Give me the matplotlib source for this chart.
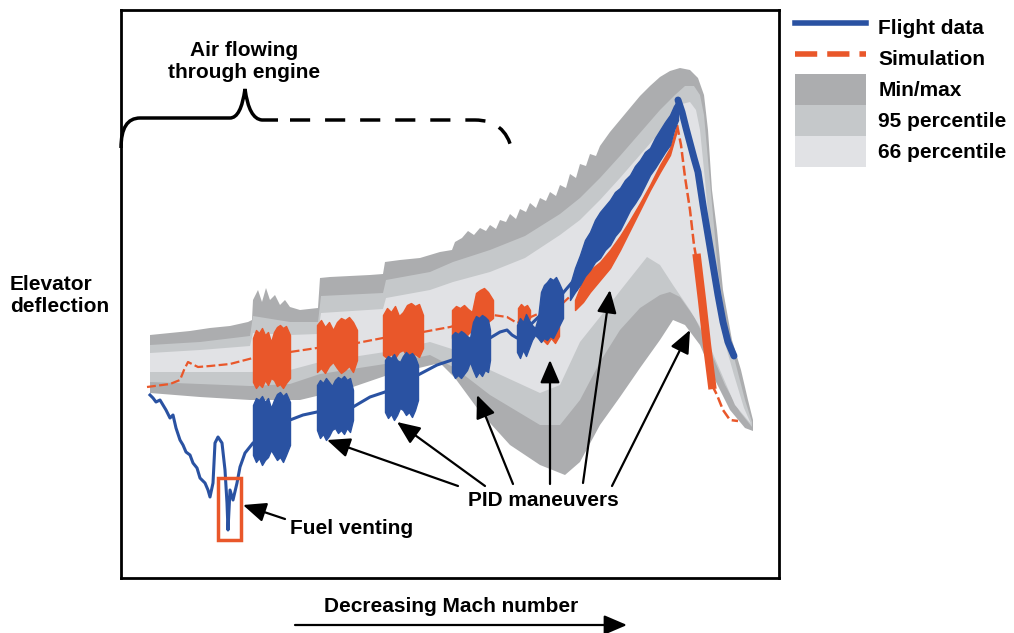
import numpy as np
import matplotlib.pyplot as plt
from matplotlib.path import Path
from matplotlib.patches import PathPatch, Rectangle, Patch
from matplotlib.lines import Line2D

plt.rcParams['font.family'] = ['Liberation Sans', 'DejaVu Sans']
plt.rcParams['font.weight'] = 'bold'

BLUE = '#2a52a2'
RED = '#e9572a'
DARK = '#acadaf'
MID = '#c5c8ca'
LIGHT = '#e1e2e5'

# schematic units: x grows with decreasing Mach, y = elevator deflection (axis inverted)
# envelope edges (min/max, 95 and 66 percentile)
mm_hi_x = [150, 170, 190, 210, 230, 248, 252, 253, 258, 262, 266, 270, 275, 280, 285, 290, 300, 318, 320, 330, 350, 370, 383,
           385, 400, 420, 440, 452, 455, 462, 468, 474, 480, 486, 490, 496, 500, 506, 510, 516, 520, 526, 530, 536, 540, 546,
           550, 556, 560, 566, 570, 576, 580, 586, 590, 596, 600, 610, 620, 630,
           640, 650, 660, 670, 680, 690, 698, 704, 708, 712, 717, 723, 732, 741, 748, 753]
mm_hi_y = [335, 333, 331, 328, 326, 322, 320, 300, 290, 302, 288, 300, 295, 305, 300, 307, 310, 308, 278, 277, 276, 275, 274,
           262, 260, 258, 252, 250, 242, 238, 231, 235, 228, 231, 225, 229, 220, 222, 214, 219, 209, 212, 203, 208, 198, 201,
           192, 196, 185, 188, 174, 178, 164, 166, 154, 156, 146, 132, 120, 108,
           96, 86, 77, 71, 68, 70, 78, 95, 130, 190, 230, 290, 340, 370, 400, 420]
mm_lo_x = [150, 200, 250, 300, 350, 385, 440, 455, 480, 510, 540, 565, 580, 600, 620, 640, 660, 673, 685, 700, 715, 730, 745, 753]
mm_lo_y = [393, 397, 400, 400, 388, 376, 363, 378, 412, 445, 465, 475, 462, 425, 397, 368, 340, 320, 325, 345, 380, 410, 428, 431]

p95_hi_x = [150, 200, 250, 253, 290, 318, 321, 383, 386, 430, 453, 490, 525, 560, 580, 600, 620, 640, 660, 675, 685, 694,
            700, 704, 708, 713, 718, 726, 736, 745, 752]
p95_hi_y = [345, 342, 336, 316, 322, 322, 296, 293, 280, 272, 262, 250, 236, 214, 198, 178, 156, 133, 110, 95, 86, 86,
            95, 115, 160, 215, 270, 325, 365, 400, 422]
p95_lo_x = [150, 250, 290, 320, 385, 430, 455, 490, 540, 560, 580, 600, 620, 640, 660, 670, 680, 695, 710, 725, 740, 752]
p95_lo_y = [382, 386, 384, 374, 364, 355, 368, 395, 425, 425, 400, 362, 330, 308, 295, 292, 297, 318, 350, 385, 412, 427]

p66_hi_x = [150, 200, 250, 253, 290, 318, 321, 383, 386, 430, 453, 490, 525, 560, 580, 600, 620, 640, 660, 672, 682, 690,
            696, 700, 705, 710, 716, 724, 734, 744, 751]
p66_hi_y = [353, 350, 346, 333, 335, 334, 313, 309, 298, 290, 282, 272, 258, 235, 220, 200, 178, 155, 132, 116, 104, 102,
            110, 130, 180, 235, 290, 340, 375, 408, 424]
p66_lo_x = [150, 250, 290, 320, 385, 430, 455, 490, 540, 560, 580, 600, 620, 647, 660, 673, 690, 705, 720, 735, 751]
p66_lo_y = [372, 372, 370, 362, 352, 342, 350, 370, 393, 385, 342, 317, 291, 257, 265, 285, 310, 335, 370, 405, 424]

# flight data and simulation traces
blue_x = [150, 153, 156, 160, 163, 166, 170, 173, 176, 180, 183, 186, 190, 193, 197, 200, 205, 208, 210, 213, 215, 218,
          222, 225, 227, 228, 230, 233, 237, 240, 245, 253,
          290, 303, 317, 353, 370, 385, 418, 437, 452, 490, 500, 507, 512, 517, 563, 580]
blue_y = [395, 398, 402, 400, 405, 410, 418, 415, 428, 440, 445, 452, 455, 463, 468, 478, 483, 490, 497, 483, 443, 437,
          443, 470, 503, 530, 490, 500, 483, 467, 453, 443,
          420, 415, 412, 407, 397, 392, 375, 365, 360, 338, 332, 330, 335, 338, 293, 273]
red_x = [147, 170, 180, 184, 188, 192, 198, 210, 230, 253, 290, 317, 357, 383, 423, 450, 493, 507, 517, 563, 580]
red_y = [387, 384, 380, 370, 362, 364, 367, 366, 364, 358, 352, 348, 343, 338, 332, 327, 315, 317, 323, 303, 287]

# PID maneuver bursts: x, top, bottom
blue_bursts = [
    ([253, 256, 259, 262, 265, 268, 271, 274, 277, 280, 283, 286, 290],
     [405, 398, 400, 396, 402, 398, 408, 400, 394, 392, 396, 393, 402],
     [455, 462, 458, 465, 460, 457, 450, 455, 460, 457, 462, 455, 445]),
    ([317, 320, 323, 326, 329, 332, 335, 338, 341, 344, 347, 350, 353],
     [385, 380, 383, 378, 382, 386, 380, 377, 379, 376, 380, 378, 390],
     [430, 438, 434, 440, 436, 430, 428, 433, 430, 434, 428, 432, 420]),
    ([385, 388, 391, 394, 397, 400, 403, 406, 409, 412, 415, 418],
     [360, 356, 358, 354, 360, 362, 356, 352, 355, 353, 357, 365],
     [412, 418, 414, 420, 415, 408, 410, 415, 412, 417, 410, 400]),
    ([452, 455, 458, 461, 464, 467, 470, 473, 476, 479, 482, 485, 488, 490],
     [335, 332, 334, 331, 333, 336, 338, 322, 316, 318, 315, 317, 320, 330],
     [372, 378, 375, 378, 374, 370, 362, 370, 377, 372, 376, 370, 372, 360]),
    ([517, 520, 523, 526, 529, 532, 535, 538, 541, 544, 547, 550, 553, 556, 559, 563],
     [325, 318, 322, 314, 320, 325, 328, 318, 292, 285, 282, 278, 280, 277, 283, 292],
     [352, 358, 350, 356, 348, 340, 335, 338, 342, 338, 340, 336, 338, 332, 326, 318]),
]
red_bursts = [
    ([253, 256, 259, 262, 265, 268, 271, 274, 277, 280, 283, 286, 290],
     [338, 330, 333, 328, 335, 332, 342, 332, 327, 325, 328, 326, 335],
     [382, 388, 384, 387, 380, 385, 378, 380, 386, 384, 388, 383, 378]),
    ([317, 321, 325, 329, 333, 337, 341, 345, 349, 353, 357],
     [325, 320, 327, 322, 330, 322, 318, 320, 317, 322, 330],
     [372, 368, 373, 366, 362, 368, 373, 370, 366, 372, 360]),
    ([383, 387, 391, 395, 399, 403, 407, 411, 415, 419, 423],
     [315, 308, 312, 306, 316, 312, 305, 303, 306, 304, 315],
     [355, 358, 354, 358, 352, 350, 356, 357, 354, 357, 348]),
    ([452, 456, 460, 464, 468, 472, 476, 480, 484, 488, 493],
     [310, 306, 308, 305, 309, 312, 293, 290, 288, 292, 300],
     [338, 340, 336, 339, 334, 330, 324, 320, 326, 322, 318]),
    ([518, 521, 524, 527, 530],
     [308, 304, 307, 305, 310],
     [322, 325, 320, 324, 318]),
    ([543, 547, 551, 555, 559],
     [325, 322, 326, 320, 318],
     [340, 344, 338, 343, 336]),
]

# final climb and descent
blue_c_x = [570, 575, 580, 585, 590, 595, 600, 605, 610, 615, 620, 625, 630, 635, 640, 645, 650, 655, 660, 665, 670, 674, 678]
blue_c_top = [285, 268, 255, 240, 232, 220, 212, 206, 200, 192, 188, 180, 175, 166, 160, 152, 148, 138, 130, 122, 115, 106, 100]
blue_c_bot = [300, 292, 285, 276, 270, 262, 258, 250, 245, 236, 230, 220, 210, 203, 195, 185, 175, 168, 160, 152, 145, 130, 120]
red_c_x = [575, 583, 590, 600, 610, 620, 630, 640, 650, 660, 670, 677]
red_c_top = [300, 280, 270, 262, 250, 236, 220, 203, 185, 165, 148, 125]
red_c_bot = [310, 302, 292, 280, 268, 250, 230, 210, 190, 172, 155, 130]
blue_d_x = [678, 682, 686, 690, 694, 698, 703, 708, 713, 718, 723, 728, 734]
blue_d_y = [100, 112, 128, 143, 158, 172, 205, 235, 265, 295, 322, 342, 356]
red_d_x = [677, 681, 685, 690, 694, 697]
red_d_y = [125, 145, 177, 210, 245, 262]
red_t_x = [697, 702, 707, 712]
red_t_y = [258, 300, 345, 385]
red_e_x = [712, 717, 723, 730, 738]
red_e_y = [385, 395, 410, 420, 421]

fig = plt.figure(figsize=(10.14, 6.33), dpi=100)
ax = fig.add_axes([121 / 1014, 55 / 633, 658 / 1014, 568 / 633])
ax.set_xlim(121, 779)
ax.set_ylim(578, 10)
ax.set_xticks([])
ax.set_yticks([])
for s in ax.spines.values():
    s.set_linewidth(2)


def band(hx, hy, lx, ly, color):
    ax.fill(list(hx) + list(lx)[::-1], list(hy) + list(ly)[::-1], color=color, lw=0, zorder=1)


band(mm_hi_x, mm_hi_y, mm_lo_x, mm_lo_y, DARK)
band(p95_hi_x, p95_hi_y, p95_lo_x, p95_lo_y, MID)
band(p66_hi_x, p66_hi_y, p66_lo_x, p66_lo_y, LIGHT)

ax.plot(red_x, red_y, color=RED, lw=1.6, dashes=(4, 1.5), zorder=3)
ax.plot(blue_x, blue_y, color=BLUE, lw=2.2, zorder=4)
for x, t, b in red_bursts:
    ax.fill_between(x, t, b, color=RED, lw=1, zorder=3)
for x, t, b in blue_bursts:
    ax.fill_between(x, t, b, color=BLUE, lw=1, zorder=4)

ax.fill_between(red_c_x, red_c_top, red_c_bot, color=RED, lw=1, zorder=3)
ax.fill_between(blue_c_x, blue_c_top, blue_c_bot, color=BLUE, lw=1, zorder=4)
ax.plot(blue_d_x, blue_d_y, color=BLUE, lw=5, zorder=4, solid_capstyle='round')
ax.plot(red_d_x, red_d_y, color=RED, lw=1.8, dashes=(4, 1.5), zorder=3)
ax.plot(red_t_x, red_t_y, color=RED, lw=6, zorder=3)
ax.plot(red_e_x, red_e_y, color=RED, lw=1.8, dashes=(4, 1.5), zorder=3)

# fuel venting box
ax.add_patch(Rectangle((218, 478), 23, 62, fill=False, edgecolor=RED, lw=2.5, zorder=6, clip_on=False))

# brace for air flowing through engine
solid = Path([(121, 148), (121, 118), (140, 118), (230, 118), (241, 118), (245, 89), (249, 119), (262, 120), (278, 120)],
             [Path.MOVETO, Path.CURVE3, Path.CURVE3, Path.LINETO, Path.CURVE3, Path.CURVE3, Path.CURVE3, Path.CURVE3,
              Path.LINETO])
ax.add_patch(PathPatch(solid, fill=False, lw=2.5, edgecolor='k', clip_on=False, zorder=6))
dashed = Path([(290, 120), (475, 120), (505, 120), (512, 150)],
              [Path.MOVETO, Path.LINETO, Path.CURVE3, Path.CURVE3])
ax.add_patch(PathPatch(dashed, fill=False, lw=2.5, edgecolor='k', linestyle=(0, (5.8, 4.3)), clip_on=False, zorder=6))

arrow = dict(arrowstyle='-|>,head_length=0.7,head_width=0.3', color='k', lw=1.6, shrinkA=0, shrinkB=0,
             mutation_scale=20)
ax.annotate('', xy=(243, 505), xytext=(285, 519), arrowprops=arrow, annotation_clip=False, zorder=7)
pid_tails = [(458, 486), (485, 486), (513, 484), (550, 484), (583, 483), (612, 486)]
pid_heads = [(327, 440), (397, 422), (477, 395), (550, 360), (610, 290), (690, 330)]
for tail, head in zip(pid_tails, pid_heads):
    ax.annotate('', xy=head, xytext=tail, arrowprops=arrow, annotation_clip=False, zorder=7)
ax.annotate('', xy=(627, 625), xytext=(295, 625), arrowprops=arrow, annotation_clip=False)

fs = 15
ax.text(244, 62, 'Air flowing\nthrough engine', ha='center', va='center', fontsize=fs, linespacing=1.2, zorder=7)
ax.text(10, 295, 'Elevator\ndeflection', ha='left', va='center', fontsize=fs, linespacing=1.2)
ax.text(290, 528, 'Fuel venting', ha='left', va='center', fontsize=fs, zorder=7)
ax.text(543, 500, 'PID maneuvers', ha='center', va='center', fontsize=fs, zorder=7)
ax.text(451, 606, 'Decreasing Mach number', ha='center', va='center', fontsize=fs)

handles = [Line2D([], [], color=BLUE, lw=4),
           Line2D([], [], color=RED, lw=4, dashes=(4, 1.8)),
           Patch(facecolor=DARK, edgecolor='none'),
           Patch(facecolor=MID, edgecolor='none'),
           Patch(facecolor=LIGHT, edgecolor='none')]
labels = ['Flight data', 'Simulation', 'Min/max', '95 percentile', '66 percentile']
fig.legend(handles, labels, loc='upper left', bbox_to_anchor=(795 / 1014, 1 - 12 / 633), frameon=False,
           prop={'weight': 'bold', 'size': fs}, handlelength=3.4, handleheight=1.91, labelspacing=0,
           handletextpad=0.6, borderpad=0, borderaxespad=0)

fig.savefig('out.png', dpi=100)
